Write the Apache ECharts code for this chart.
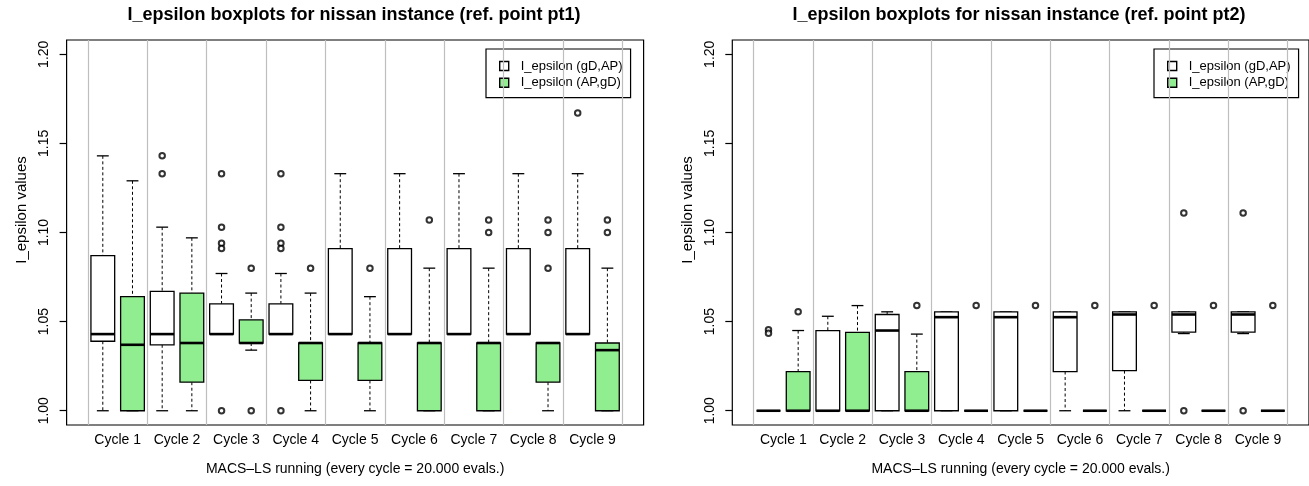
<!DOCTYPE html>
<html>
<head>
<meta charset="utf-8">
<script src="https://cdn.jsdelivr.net/npm/echarts@6/dist/echarts.min.js"></script>
<style>
html,body{margin:0;padding:0;background:#fff;}
#chart{width:1309px;height:486px;}
</style>
</head>
<body>
<div id="chart"></div>
<script>
// ---------- data ----------
const categories = ['Cycle 1','Cycle 2','Cycle 3','Cycle 4','Cycle 5','Cycle 6','Cycle 7','Cycle 8','Cycle 9'];
const yTicks = [1.00, 1.05, 1.10, 1.15, 1.20];
const seriesNames = ['I_epsilon (gD,AP)', 'I_epsilon (AP,gD)'];
const titles = ['I_epsilon boxplots for nissan instance (ref. point pt1)',
                'I_epsilon boxplots for nissan instance (ref. point pt2)'];
const xTitle = 'MACS\u2013LS running (every cycle = 20.000 evals.)';
const yTitle = 'I_epsilon values';

// each row: [lower whisker, Q1, median, Q3, upper whisker]
const pt1GdAp = [
  [1.000, 1.039, 1.043, 1.087, 1.143],
  [1.000, 1.037, 1.043, 1.067, 1.103],
  [1.043, 1.043, 1.043, 1.060, 1.077],
  [1.043, 1.043, 1.043, 1.060, 1.077],
  [1.043, 1.043, 1.043, 1.091, 1.133],
  [1.043, 1.043, 1.043, 1.091, 1.133],
  [1.043, 1.043, 1.043, 1.091, 1.133],
  [1.043, 1.043, 1.043, 1.091, 1.133],
  [1.043, 1.043, 1.043, 1.091, 1.133]
];
const pt1ApGd = [
  [1.000, 1.000, 1.037, 1.064, 1.129],
  [1.000, 1.016, 1.038, 1.066, 1.097],
  [1.034, 1.038, 1.038, 1.051, 1.066],
  [1.000, 1.017, 1.038, 1.038, 1.066],
  [1.000, 1.017, 1.038, 1.038, 1.064],
  [1.000, 1.000, 1.038, 1.038, 1.080],
  [1.000, 1.000, 1.038, 1.038, 1.080],
  [1.000, 1.016, 1.038, 1.038, 1.038],
  [1.000, 1.000, 1.034, 1.038, 1.080]
];
// outliers: [cycle number, value]
const pt1GdApOut = [[2,1.143],[2,1.133],[3,1.133],[3,1.103],[3,1.094],[3,1.091],[3,1.000],
                    [4,1.133],[4,1.103],[4,1.094],[4,1.091],[4,1.000],[9,1.167]];
const pt1ApGdOut = [[3,1.080],[3,1.000],[4,1.080],[5,1.080],[6,1.107],[7,1.107],[7,1.100],
                    [8,1.107],[8,1.100],[8,1.080],[9,1.107],[9,1.100]];

const pt2GdAp = [
  [1.000, 1.000, 1.000, 1.000, 1.000],
  [1.000, 1.000, 1.000, 1.045, 1.053],
  [1.000, 1.000, 1.045, 1.054, 1.0555],
  [1.000, 1.000, 1.0525, 1.0555, 1.0555],
  [1.000, 1.000, 1.0525, 1.0555, 1.0555],
  [1.000, 1.022, 1.0525, 1.0555, 1.0555],
  [1.000, 1.0225, 1.054, 1.0555, 1.0555],
  [1.0433, 1.0441, 1.054, 1.0555, 1.0555],
  [1.0433, 1.0441, 1.054, 1.0555, 1.0555]
];
const pt2ApGd = [
  [1.000, 1.000, 1.000, 1.022, 1.045],
  [1.000, 1.000, 1.000, 1.044, 1.059],
  [1.000, 1.000, 1.000, 1.022, 1.043],
  [1.000, 1.000, 1.000, 1.000, 1.000],
  [1.000, 1.000, 1.000, 1.000, 1.000],
  [1.000, 1.000, 1.000, 1.000, 1.000],
  [1.000, 1.000, 1.000, 1.000, 1.000],
  [1.000, 1.000, 1.000, 1.000, 1.000],
  [1.000, 1.000, 1.000, 1.000, 1.000]
];
const pt2GdApOut = [[1,1.0455],[1,1.0435],[8,1.111],[8,1.000],[9,1.111],[9,1.000]];
const pt2ApGdOut = [[1,1.0555],[3,1.059],[4,1.059],[5,1.059],[6,1.059],[7,1.059],[8,1.059],[9,1.059]];

// ---------- layout / style ----------
const FONT = '"Liberation Sans", Arial, Helvetica, sans-serif';
const BOX_OFFSET = 0.25, BOX_W = 0.4;
const FILLS = ['#ffffff', '#90ee90'];
const GRID_LEFT = [66.6, 732.3];
const GRID_W = 577;
const LEGEND_LEFT = [486, 1154];
const TITLE_X = [349, 1014];

function boxRender(params, api) {
  const x = api.value(0);
  const lo = api.coord([x, api.value(1)]);
  const q1 = api.coord([x, api.value(2)]);
  const md = api.coord([x, api.value(3)]);
  const q3 = api.coord([x, api.value(4)]);
  const hi = api.coord([x, api.value(5)]);
  const bw = api.size([BOX_W, 0])[0];
  const cx = lo[0], l = cx - bw / 2, cap = bw / 4;
  const dash = {stroke: '#000', lineWidth: 1, lineDash: [3, 2.5]};
  const solid = {stroke: '#000', lineWidth: 1.3};
  return {
    type: 'group',
    children: [
      {type: 'line', shape: {x1: cx, y1: hi[1], x2: cx, y2: q3[1]}, style: dash},
      {type: 'line', shape: {x1: cx, y1: q1[1], x2: cx, y2: lo[1]}, style: dash},
      {type: 'line', shape: {x1: cx - cap, y1: hi[1], x2: cx + cap, y2: hi[1]}, style: solid},
      {type: 'line', shape: {x1: cx - cap, y1: lo[1], x2: cx + cap, y2: lo[1]}, style: solid},
      {type: 'rect', shape: {x: l, y: q3[1], width: bw, height: q1[1] - q3[1]},
       style: {fill: api.visual('color'), stroke: '#000', lineWidth: 1.3}},
      {type: 'line', shape: {x1: l, y1: md[1], x2: l + bw, y2: md[1]},
       style: {stroke: '#000', lineWidth: 2.6}}
    ]
  };
}

const panels = [
  {boxes: [pt1GdAp, pt1ApGd], outs: [pt1GdApOut, pt1ApGdOut]},
  {boxes: [pt2GdAp, pt2ApGd], outs: [pt2GdApOut, pt2ApGdOut]}
];

const grids = [], xAxes = [], yAxes = [], series = [], titleOpts = [], legends = [];
const cycleNums = categories.map((c, i) => i + 1);
const separators = categories.map((c, i) => i + 0.5).concat([categories.length + 0.5]);

panels.forEach((p, g) => {
  grids.push({left: GRID_LEFT[g], top: 40, width: GRID_W, height: 385,
              show: true, borderColor: '#000', borderWidth: 1.2, backgroundColor: 'transparent'});
  xAxes.push({
    type: 'value', gridIndex: g, min: 0.14, max: 9.86,
    axisLine: {show: false}, axisTick: {show: false}, splitLine: {show: false},
    axisLabel: {customValues: cycleNums, formatter: v => categories[Math.round(v) - 1],
                fontSize: 14, color: '#000', fontFamily: FONT, margin: 8},
    name: xTitle, nameLocation: 'middle', nameGap: 37,
    nameTextStyle: {fontSize: 14, color: '#000', fontFamily: FONT}
  });
  yAxes.push({
    type: 'value', gridIndex: g, min: 0.992, max: 1.208,
    axisLine: {show: false}, splitLine: {show: false},
    axisTick: {show: true, customValues: yTicks, length: 7, lineStyle: {color: '#000', width: 1.2}},
    axisLabel: {customValues: yTicks, rotate: 90, formatter: v => v.toFixed(2),
                fontSize: 14, color: '#000', fontFamily: FONT, margin: 15},
    name: yTitle, nameLocation: 'middle', nameGap: 37,
    nameTextStyle: {fontSize: 15, color: '#000', fontFamily: FONT, padding: [0, 0, 0, 45]}
  });
  // category separators
  series.push({
    type: 'line', xAxisIndex: g, yAxisIndex: g, data: [], z: 1, silent: true,
    markLine: {silent: true, symbol: ['none', 'none'], label: {show: false},
               lineStyle: {color: '#bebebe', type: 'solid', width: 1.2},
               data: separators.map(v => ({xAxis: v}))}
  });
  p.boxes.forEach((arr, k) => {
    const off = k === 0 ? -BOX_OFFSET : BOX_OFFSET;
    series.push({
      type: 'custom', name: seriesNames[k], xAxisIndex: g, yAxisIndex: g, z: 3,
      itemStyle: {color: FILLS[k]},
      renderItem: boxRender,
      encode: {x: 0, y: [1, 2, 3, 4, 5]},
      data: arr.map((r, i) => [i + 1 + off].concat(r))
    });
    series.push({
      type: 'scatter', name: 'outliers ' + g + '-' + k, xAxisIndex: g, yAxisIndex: g, z: 4,
      symbol: 'emptyCircle', symbolSize: 5.5,
      itemStyle: {color: '#000', borderWidth: 1.4},
      data: p.outs[k].map(o => [o[0] + off, o[1]])
    });
  });
  titleOpts.push({
    text: titles[g], left: TITLE_X[g], top: 1, textAlign: 'center',
    textStyle: {fontSize: 18, fontWeight: 'bold', color: '#000', fontFamily: FONT}
  });
  legends.push({
    orient: 'vertical', left: LEGEND_LEFT[g], top: 49, padding: [10, 8, 8, 13],
    itemWidth: 9, itemHeight: 9, itemGap: 2.7, selectedMode: false,
    borderColor: '#000', borderWidth: 1.2, backgroundColor: '#fff',
    textStyle: {fontSize: 13, color: '#000', fontFamily: FONT, lineHeight: 14, padding: [0, 0, 0, 7]},
    data: seriesNames.map((n, k) => ({name: n, icon: 'rect',
      itemStyle: {color: FILLS[k], borderColor: '#000', borderWidth: 1.4}}))
  });
});

const chart = echarts.init(document.getElementById('chart'), null, {renderer: 'canvas'});
chart.setOption({
  backgroundColor: '#fff',
  animation: false,
  textStyle: {fontFamily: FONT},
  title: titleOpts,
  legend: legends,
  grid: grids,
  xAxis: xAxes,
  yAxis: yAxes,
  series: series
});
</script>
</body>
</html>
